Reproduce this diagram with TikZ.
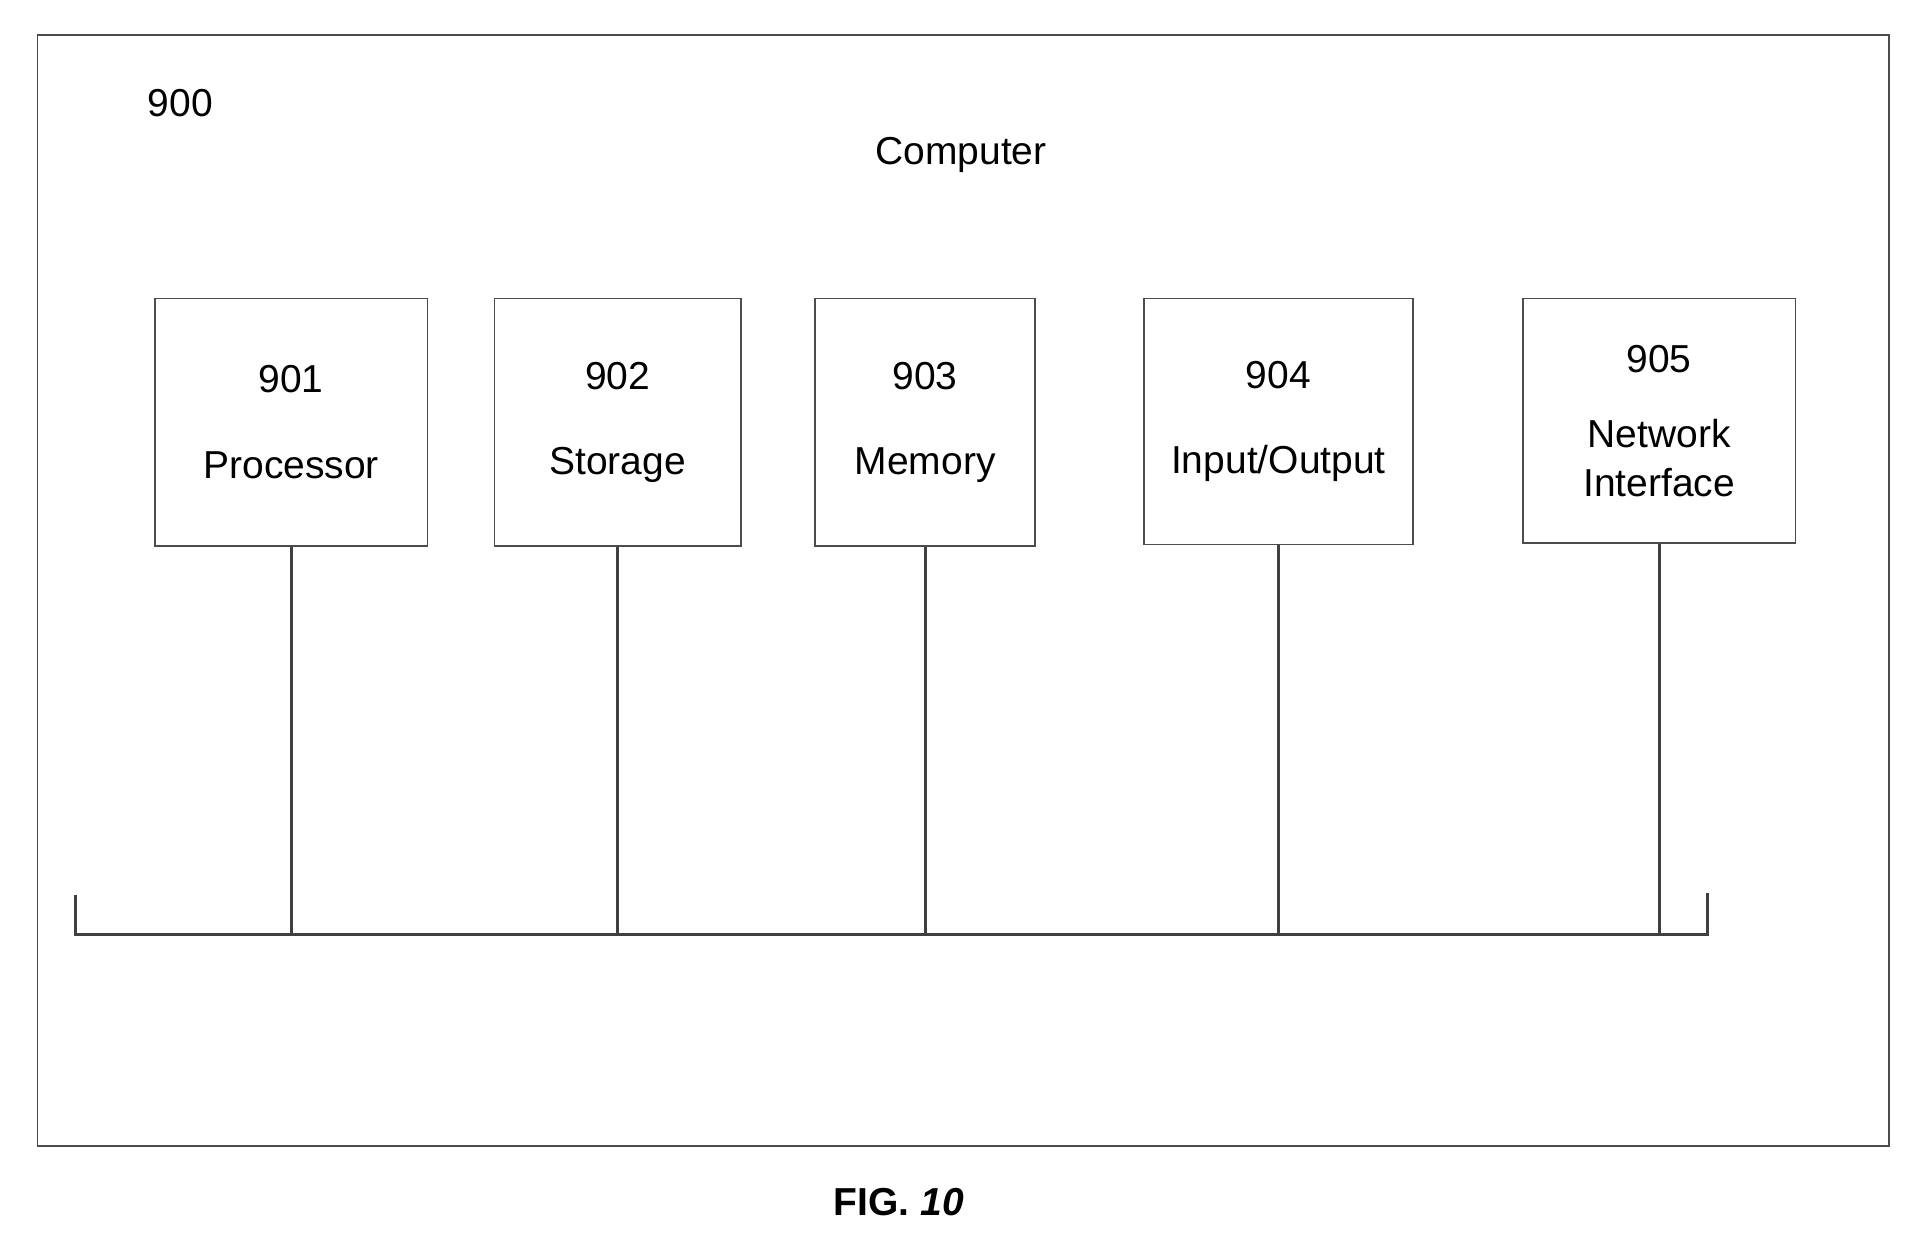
\documentclass[tikz,border=0pt]{standalone}
\usepackage{fontspec}
\setmainfont{Liberation Sans}
\usetikzlibrary{positioning}
\begin{document}
\begin{tikzpicture}[x=1pt,y=-1pt,
    unit/.style={rectangle,draw=black!70,line width=1.5pt,align=center,font=\fontsize{32}{40}\selectfont},
    lbl/.style={font=\fontsize{32}{38}\selectfont},
    bus/.style={draw=black!75,line width=2.5pt}]

  \useasboundingbox (0,0) rectangle (1568,1015);
  \node (frame) [rectangle,draw=black!70,line width=1.5pt,minimum width=1520pt,minimum height=912pt,anchor=north west] at (30,28) {};

  \node (num) [lbl] at (148,85) {900};
  \node (title) [lbl] at (789,127) {Computer};

  \node (proc) [unit,minimum width=224pt,minimum height=203pt] at (239,346.5) {901\\[30pt]Processor};
  \node (stor) [unit,minimum width=202pt,minimum height=203pt] at (507,346.5) {902\\[30pt]Storage};
  \node (mem) [unit,minimum width=181pt,minimum height=203pt] at (759.5,346.5) {903\\[30pt]Memory};
  \node (io) [unit,minimum width=221pt,minimum height=202pt] at (1049.5,346) {904\\[30pt]Input/Output};
  \node (net) [unit,minimum width=224pt,minimum height=201pt] at (1362,345.5) {905\\[22pt]Network\\Interface};

  % bus
  \coordinate (busl) at (62,767);
  \coordinate (busr) at (1402,767);
  \draw[bus] (62,735) -- (busl) -- (busr) -- (1402,733);
  \foreach \n in {proc,stor,mem,io,net}
    \draw[bus] (\n.south) -- (\n.south |- busl);

  \node (fig) [font=\bfseries\fontsize{32}{38}\selectfont] at (738,987) {FIG. \textit{10}};
\end{tikzpicture}
\end{document}
